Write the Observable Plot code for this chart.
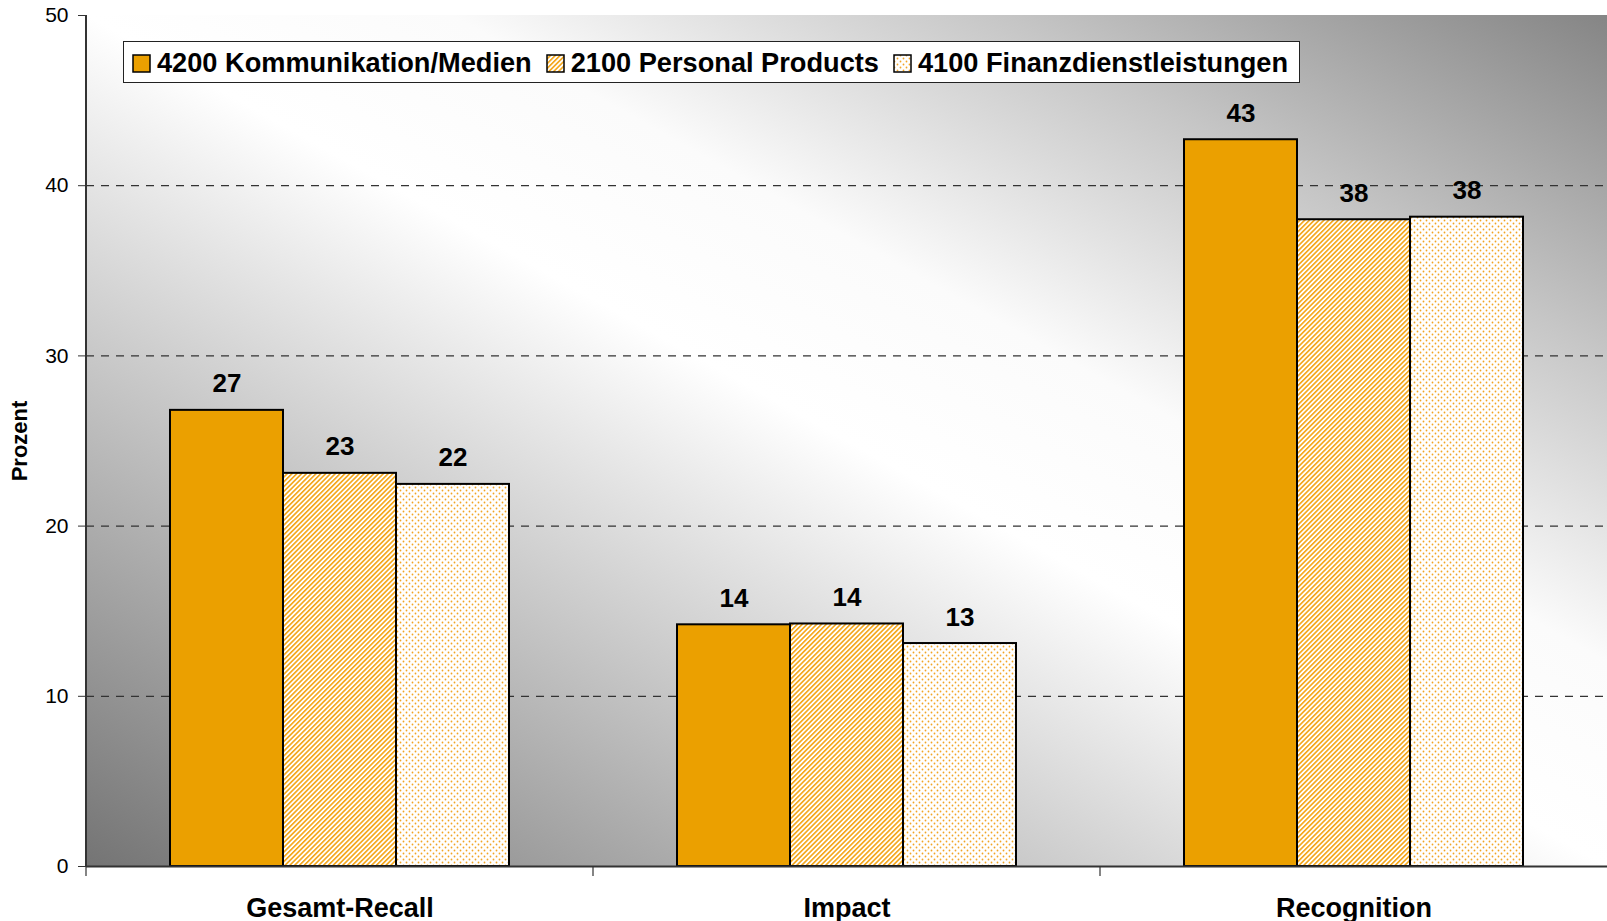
<!DOCTYPE html>
<html>
<head>
<meta charset="utf-8">
<script src="https://cdn.jsdelivr.net/npm/d3@7"></script>
<script src="https://cdn.jsdelivr.net/npm/@observablehq/plot@0.6"></script>
<style>
  html, body { margin: 0; padding: 0; background: #fff; }
  body { width: 1607px; height: 921px; overflow: hidden; font-family: "Liberation Sans", Arial, sans-serif; }
  #wrap { position: relative; width: 1607px; height: 921px; }
  #legend { position: absolute; left: 123px; top: 41px; height: 42px; box-sizing: border-box;
    border: 1px solid #222; background: #fff; display: flex; align-items: center;
    padding: 2px 11px 0 8px; font-weight: bold; font-size: 27.2px; color: #000; white-space: nowrap; }
  .item { display: flex; align-items: center; margin-right: 14px; }
  .item:last-child { margin-right: 0; }
  .sw { width: 19px; height: 19px; margin-right: 6px; display: block; }
  #ylab { position: absolute; left: 20px; top: 441px; transform: translate(-50%, -50%) rotate(-90deg);
    font-weight: bold; font-size: 22px; color: #000; white-space: nowrap; }
</style>
</head>
<body>
<svg width="0" height="0" style="position:absolute">
  <defs>
    <pattern id="hatch" patternUnits="userSpaceOnUse" width="3.4" height="3.4" patternTransform="rotate(45)">
      <rect width="3.4" height="3.4" fill="#fff"></rect>
      <rect x="0" y="0" width="1.6" height="3.4" fill="#F4A516"></rect>
    </pattern>
    <pattern id="dots" patternUnits="userSpaceOnUse" width="6" height="6">
      <rect width="6" height="6" fill="#fff"></rect>
      <circle cx="1.5" cy="1.5" r="0.9" fill="#F2A524"></circle>
      <circle cx="4.5" cy="4.5" r="0.9" fill="#F2A524"></circle>
    </pattern>
    <linearGradient id="bg" x1="0" y1="1" x2="1" y2="0">
      <stop offset="0" stop-color="#747474"></stop>
      <stop offset="0.5" stop-color="#ffffff"></stop>
      <stop offset="0.62" stop-color="#fbfbfb"></stop>
      <stop offset="0.8" stop-color="#c6c6c6"></stop>
      <stop offset="1" stop-color="#858585"></stop>
    </linearGradient>
  </defs>
</svg>
<div id="wrap">
  <div id="chart"></div>
  <div id="legend"></div>
  <div id="ylab">Prozent</div>
</div>
<script>
// ---- data ----
const categories = ["Gesamt-Recall", "Impact", "Recognition"];
const seriesNames = ["4200 Kommunikation/Medien", "2100 Personal Products", "4100 Finanzdienstleistungen"];
const kommunikationMedien = [26.8, 14.2, 42.7];
const personalProducts = [23.1, 14.25, 38.0];
const finanzdienstleistungen = [22.45, 13.1, 38.15];
const yTicks = [0, 10, 20, 30, 40, 50];
const gridTicks = [10, 20, 30, 40];
const seriesFills = ["#EBA000", "url(#hatch)", "url(#dots)"];

const seriesValues = [kommunikationMedien, personalProducts, finanzdienstleistungen];
const data = [];
categories.forEach((c, i) => {
  seriesNames.forEach((s, j) => data.push({cat: c, series: s, value: seriesValues[j][i]}));
});

const font = '"Liberation Sans", Arial, sans-serif';

const plot = Plot.plot({
  width: 1607,
  height: 921,
  marginTop: 15,
  marginBottom: 55,
  marginLeft: 86,
  marginRight: 0,
  style: {fontFamily: font, background: "transparent", color: "#000", overflow: "visible"},
  fx: {domain: categories, padding: 0, label: null},
  x: {domain: seriesNames, paddingInner: 0, paddingOuter: 0.743, axis: null},
  y: {domain: [0, 50], label: null},
  color: {type: "ordinal", domain: seriesNames, range: seriesFills},
  marks: [
    Plot.gridY({ticks: gridTicks, stroke: "#333", strokeOpacity: 1, strokeWidth: 1.2, strokeDasharray: "8,7"}),
    Plot.barY(data, {fx: "cat", x: "series", y: "value", fill: "series", stroke: "#000", strokeWidth: 2}),
    Plot.ruleY([0], {stroke: "#333", strokeWidth: 2}),
    Plot.text(data, {fx: "cat", x: "series", y: "value", text: d => String(Math.round(d.value)),
      dy: -18, lineAnchor: "bottom", fontSize: 26, fontWeight: "bold", fill: "#000"}),
    Plot.axisY({ticks: yTicks, tickSize: 8, tickPadding: 10, fontSize: 21, label: null, stroke: "#333", tickFormat: d => String(d)}),
    Plot.axisFx({anchor: "bottom", tickSize: 0, tickPadding: 31, fontSize: 27, fontWeight: "bold", label: null})
  ]
});

// background gradient, left axis line and category boundary ticks from the plot's own scales
const fxS = plot.scale("fx");
const yS = plot.scale("y");
const [yBottom, yTop] = yS.range;
const xLeft = fxS.range[0], xRight = fxS.range[1];
const svg = d3.select(plot);
svg.insert("rect", ":scope > g")
  .attr("x", xLeft).attr("y", yTop)
  .attr("width", xRight - xLeft).attr("height", yBottom - yTop)
  .attr("fill", "url(#bg)");
const deco = svg.append("g");
deco.append("line").attr("x1", xLeft).attr("x2", xLeft).attr("y1", yTop).attr("y2", yBottom)
  .attr("stroke", "#333").attr("stroke-width", 2);
categories.forEach(c => {
  const x = fxS.apply(c);
  deco.append("line").attr("x1", x).attr("x2", x).attr("y1", yBottom).attr("y2", yBottom + 10)
    .attr("stroke", "#333").attr("stroke-width", 1.2);
});

document.getElementById("chart").appendChild(plot);

// legend
const legend = d3.select("#legend");
seriesNames.forEach((s, j) => {
  const item = legend.append("div").attr("class", "item");
  const sw = item.append("svg").attr("class", "sw").attr("width", 19).attr("height", 19);
  sw.append("rect").attr("x", 1).attr("y", 1).attr("width", 17).attr("height", 17)
    .attr("fill", seriesFills[j]).attr("stroke", "#000").attr("stroke-width", 1.5);
  item.append("span").text(s);
});
</script>
</body>
</html>
